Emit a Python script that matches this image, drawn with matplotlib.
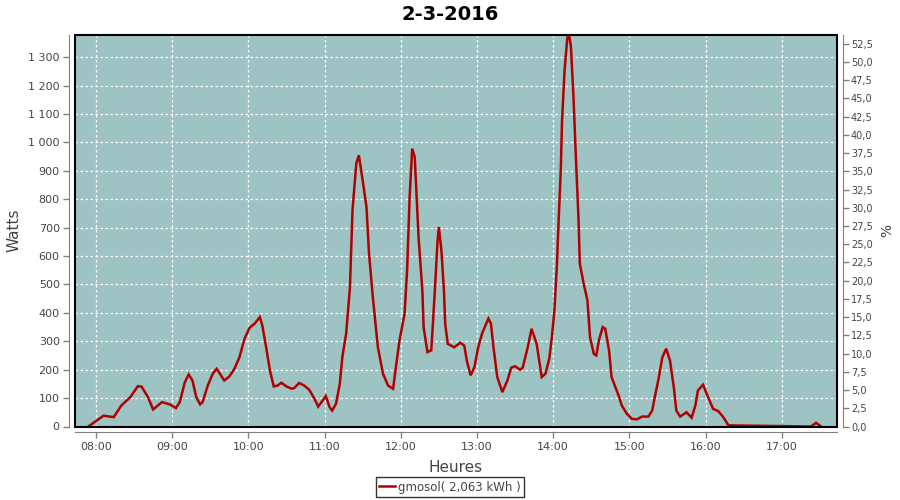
import matplotlib
matplotlib.use("Agg")
import matplotlib.pyplot as plt
from matplotlib.patches import Rectangle
from matplotlib.ticker import FuncFormatter, MultipleLocator

# minutes after 08:00
minutes = [-6, 6, 14, 20, 27, 33, 36, 41, 45, 52, 58, 63, 66, 70, 73, 76, 79, 82, 84,
           88, 92, 95, 98, 101, 105, 109, 113, 117, 121, 125, 129, 131, 134, 137, 140,
           143, 146, 150, 154, 156, 160, 164, 168, 172, 175, 181, 184, 186, 189, 192,
           194, 197, 200, 202, 205, 207, 210, 213, 215, 218, 222, 226, 230, 234, 236,
           239, 243, 245, 247, 249, 251, 253, 254, 257, 258, 261, 264, 265, 267, 269,
           270, 272, 274, 275, 277, 282, 287, 290, 292, 295, 298, 301, 304, 309, 311,
           313, 316, 320, 324, 327, 330, 334, 336, 340, 343, 347, 351, 354, 357, 359,
           361, 363, 364, 366, 367, 369, 371, 372, 374, 376, 378, 380, 381, 384, 387,
           389, 392, 394, 396, 399, 401, 404, 406, 409, 412, 414, 418, 422, 426, 430,
           435, 438, 440, 443, 446, 449, 452, 455, 457, 460, 465, 469, 472, 474, 478,
           482, 486, 490, 494, 498, 563, 567, 571]
watts = [0, 38, 33, 74, 103, 142, 140, 103, 60, 86, 78, 65, 86, 156, 183, 162, 103, 78, 86,
         144, 186, 203, 183, 162, 176, 203, 244, 309, 348, 362, 385, 356, 279, 197, 141,
         144, 154, 141, 133, 135, 153, 144, 129, 98, 70, 107, 68, 56, 80, 150,
         244, 327, 490, 761, 926, 955, 867, 773, 609, 456, 279, 186, 144, 133, 203,
         303, 397, 550, 808, 978, 949, 761, 667, 479, 350, 262, 268, 338, 491, 655,
         702, 620, 479, 362, 291, 279, 295, 285, 232, 180, 209, 279, 327, 380, 362,
         279, 174, 121, 162, 207, 212, 200, 207, 279, 344, 291, 174, 186, 240, 315,
         409, 573, 691, 902, 1078, 1254, 1360, 1395, 1336, 1161, 937, 726, 573, 503, 444,
         315, 256, 250, 303, 350, 344, 268, 174, 138, 103, 74, 45, 27, 25, 35,
         35, 56, 103, 168, 244, 274, 232, 138, 56, 35, 50, 31, 74, 127, 147,
         103, 62, 54, 33, 4, 0, 13, 0]

hour_labels = ["08:00", "09:00", "10:00", "11:00", "12:00", "13:00", "14:00",
               "15:00", "16:00", "17:00"]
series_name = "gmosol( 2,063 kWh )"
title = "2-3-2016"

W, H = 900, 500
fig = plt.figure(figsize=(9, 5), dpi=100)
fig.patch.set_facecolor("white")
L, R, T, B = 75, 837, 35, 426.5
ax = fig.add_axes([L / W, 1 - B / H, (R - L) / W, (B - T) / H])
ax.set_facecolor("#9dc3c3")

ax.plot(minutes, watts, color="#b00000", lw=1.8, solid_joinstyle="miter", zorder=3)

xmin, xmax = -16.5, 583.5
ax.set_xlim(xmin, xmax)
ax.set_ylim(0, 1378)
ax.set_xticks([i * 60 for i in range(len(hour_labels))])
ax.set_xticklabels(hour_labels)
ax.yaxis.set_major_locator(MultipleLocator(100))
ax.yaxis.set_major_formatter(FuncFormatter(lambda v, p: f"{int(v):,}".replace(",", " ")))

ax.grid(True, color="white", ls=(0, (2, 2)), lw=0.9)
ax.set_axisbelow(True)

gray = "#808080"
txt = "#444444"
for s in ["left", "bottom"]:
    ax.spines[s].set_position(("outward", 4))
    ax.spines[s].set_color(gray)
ax.spines["top"].set_visible(False)
ax.spines["right"].set_visible(False)
ax.tick_params(axis="both", colors=gray, labelcolor=txt, labelsize=8, length=4, width=1, pad=3)
ax.add_patch(Rectangle((0, 0), 1, 1, transform=ax.transAxes, fill=False,
                       edgecolor="black", lw=1.5, zorder=5, clip_on=False))

ax2 = ax.twinx()
ax2.set_ylim(0, 53.7)
ax2.yaxis.set_major_locator(MultipleLocator(2.5))
ax2.yaxis.set_major_formatter(FuncFormatter(lambda v, p: f"{v:.1f}".replace(".", ",")))
for s in ["left", "top", "bottom"]:
    ax2.spines[s].set_visible(False)
ax2.spines["right"].set_position(("outward", 4))
ax2.spines["right"].set_color(gray)
ax2.tick_params(axis="y", colors=gray, labelcolor=txt, labelsize=7, length=4, width=1, pad=2)

ax.set_ylabel("Watts", fontsize=11, color=txt)
ax.yaxis.set_label_coords((22 - L) / (R - L), 0.5)
ax.set_xlabel("Heures", fontsize=11, color=txt)
ax.xaxis.set_label_coords(0.5, -(460 - B) / (B - T))
ax2.set_ylabel("%", fontsize=10, color=txt)
ax2.yaxis.set_label_coords((880 - L) / (R - L), 0.5)

fig.text(0.5, 1 - 14 / H, title, ha="center", va="center", fontsize=14,
         fontweight="bold", color="black")

leg = fig.legend([ax.lines[0]], [series_name], loc="center",
                 bbox_to_anchor=(0.5, 1 - 487 / H), frameon=True, fancybox=False,
                 fontsize=8.5, handlelength=1.3, handletextpad=0.3, borderpad=0.3,
                 labelcolor=txt)
leg.get_frame().set_edgecolor("black")
leg.get_frame().set_linewidth(1)

fig.savefig("out.png", dpi=100, facecolor="white")
